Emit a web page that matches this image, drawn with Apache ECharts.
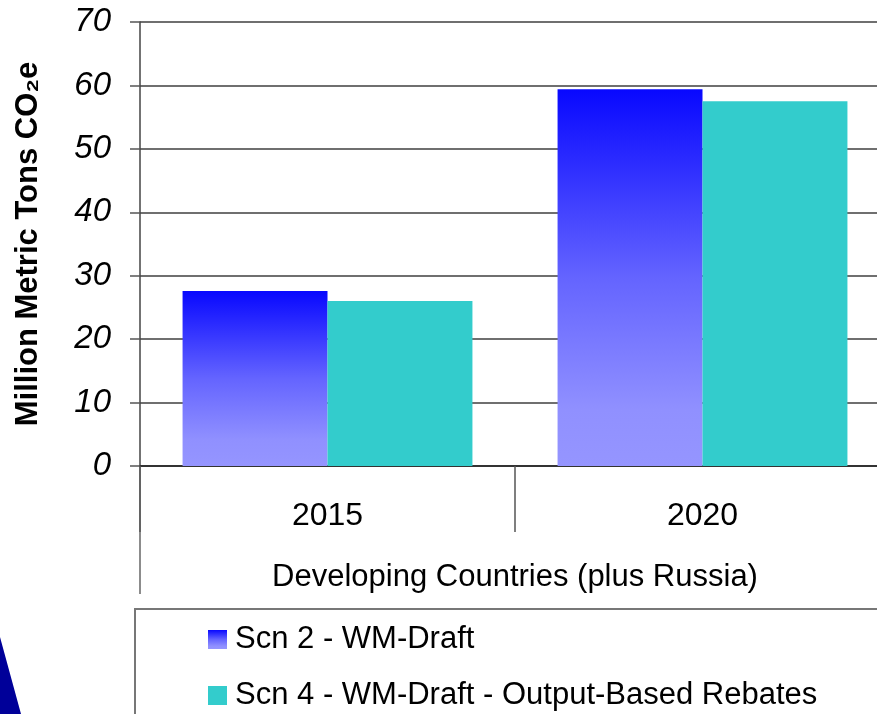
<!DOCTYPE html>
<html>
<head>
<meta charset="utf-8">
<script src="https://cdn.jsdelivr.net/npm/echarts@6/dist/echarts.min.js"></script>
<style>
  html, body { margin: 0; padding: 0; background: #fff; }
  #chart { width: 877px; height: 714px; }
</style>
</head>
<body>
<div id="chart"></div>
<script>
const categories = ['2015', '2020'];
const scn2Values = [27.6, 59.4];
const scn4Values = [26.0, 57.5];
const seriesNames = ['Scn 2 - WM-Draft', 'Scn 4 - WM-Draft - Output-Based Rebates'];

const chart = echarts.init(document.getElementById('chart'));

const blueGradient = new echarts.graphic.LinearGradient(0, 0, 0, 1, [
  { offset: 0, color: '#0808ff' },
  { offset: 0.5, color: '#6464ff' },
  { offset: 0.85, color: '#9090ff' },
  { offset: 1, color: '#9595ff' },
]);

const option = {
  animation: false,
  textStyle: { fontFamily: 'Liberation Sans, Arial, sans-serif' },
  grid: {
    left: 140,
    top: 22,
    width: 750,
    height: 444,
    outerBoundsMode: 'none',
    containLabel: false,
  },
  xAxis: {
    type: 'category',
    data: categories,
    name: 'Developing Countries (plus Russia)',
    nameLocation: 'middle',
    nameGap: 96,
    nameTextStyle: { fontSize: 31, color: '#000' },
    axisLine: { lineStyle: { color: '#333', width: 2 } },
    axisTick: { show: true, length: 66, lineStyle: { color: '#555', width: 1.5 } },
    axisLabel: { fontSize: 32, color: '#000', margin: 34 },
    splitLine: { show: false },
  },
  yAxis: {
    type: 'value',
    min: 0,
    max: 70,
    interval: 10,
    name: 'Million Metric Tons CO₂e',
    nameLocation: 'middle',
    nameGap: 96,
    nameTextStyle: { fontSize: 31, fontWeight: 'bold', color: '#000' },
    axisLine: { show: true, lineStyle: { color: '#444', width: 1.5 } },
    axisTick: { show: true, length: 10, lineStyle: { color: '#555', width: 1.5 } },
    axisLabel: { fontSize: 33, fontStyle: 'italic', color: '#000', margin: 29 },
    splitLine: { show: true, lineStyle: { color: '#6f6f6f', width: 2 } },
  },
  legend: {
    orient: 'vertical',
    left: 208,
    top: 624,
    height: 200,
    padding: 0,
    itemWidth: 19,
    itemHeight: 19,
    itemGap: 25,
    icon: 'rect',
    textStyle: { fontSize: 31, color: '#000', lineHeight: 30, padding: [0, 0, 0, 3] },
    data: seriesNames,
  },
  graphic: [
    {
      type: 'rect',
      shape: { x: 135, y: 609, width: 800, height: 200 },
      style: { fill: 'none', stroke: '#777', lineWidth: 2 },
      z: -1,
    },
    {
      type: 'line',
      shape: { x1: 140, y1: 466, x2: 140, y2: 594 },
      style: { stroke: '#666', lineWidth: 1.5 },
    },
    {
      type: 'polygon',
      shape: { points: [[0, 637], [0, 714], [21, 714]] },
      style: { fill: '#000099' },
    },
  ],
  series: [
    {
      name: seriesNames[0],
      type: 'bar',
      data: scn2Values,
      barGap: '0%',
      barCategoryGap: '22.7%',
      itemStyle: { color: blueGradient },
    },
    {
      name: seriesNames[1],
      type: 'bar',
      data: scn4Values,
      barGap: '0%',
      barCategoryGap: '22.7%',
      itemStyle: { color: '#33cccc' },
    },
  ],
};

chart.setOption(option);
</script>
</body>
</html>
